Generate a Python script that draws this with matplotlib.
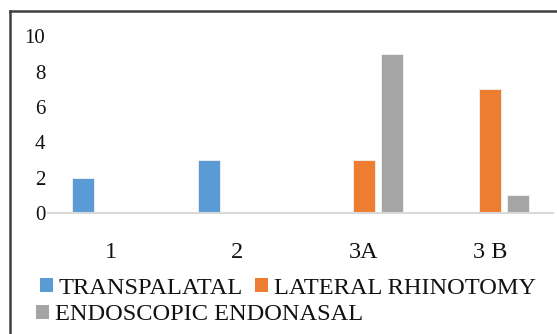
import matplotlib.pyplot as plt
import numpy as np
from matplotlib.patches import Patch
from matplotlib.lines import Line2D

plt.rcParams['font.family'] = ['Liberation Serif', 'DejaVu Serif']

categories = ['1', '2', '3A', '3 B']
transpalatal = [2, 3, 0, 0]
lateral_rhinotomy = [0, 0, 3, 7]
endoscopic_endonasal = [0, 0, 9, 1]

series_names = ['TRANSPALATAL', 'LATERAL RHINOTOMY', 'ENDOSCOPIC ENDONASAL']
colors = ['#5b9bd5', '#ed7d31', '#a5a5a5']

W, H = 557, 334
fig = plt.figure(figsize=(W / 100, H / 100), dpi=100)
ax = fig.add_axes([48 / W, 1 - 213 / H, 505 / W, 176.5 / H])

x = np.arange(len(categories))
bw = 0.175
step = 0.222
for i, (vals, c) in enumerate(zip([transpalatal, lateral_rhinotomy, endoscopic_endonasal], colors)):
    ax.bar(x + (i - 1) * step, vals, bw, color=c, edgecolor='#f2f2f2', linewidth=0.6, zorder=2)

ax.set_xlim(-0.5, 3.5)
ax.set_ylim(0, 10)
ax.set_yticks(range(0, 11, 2))
ax.set_xticks(x)
ax.set_xticklabels(categories)
ax.tick_params(axis='y', length=0, pad=2, labelsize=15, labelcolor='#111111')
ax.tick_params(axis='x', length=0, pad=21, labelsize=17.5, labelcolor='#111111')
for s in ['top', 'right', 'left']:
    ax.spines[s].set_visible(False)
ax.spines['bottom'].set_color('#d9d9d9')
ax.spines['bottom'].set_linewidth(1.5)

# outer frame (only top and left edges fall inside the image)
fig.add_artist(Line2D([10 / W, 10 / W], [0, 1 - 11 / H], color='#404040', lw=1.8,
                      transform=fig.transFigure))
fig.add_artist(Line2D([10 / W, 1], [1 - 11 / H, 1 - 11 / H], color='#404040', lw=1.8,
                      transform=fig.transFigure))

handles = [Patch(facecolor=c, edgecolor='none') for c in colors]
leg_kw = dict(frameon=False, fontsize=17.6, handlelength=0.52, handleheight=0.52,
              handletextpad=0.25, borderpad=0, borderaxespad=0, columnspacing=0.5,
              loc='center left', labelcolor='#111111')
leg1 = fig.legend(handles[:2], series_names[:2], ncol=2,
                  bbox_to_anchor=(40 / W, 1 - 288 / H), **leg_kw)
fig.legend(handles[2:], series_names[2:], bbox_to_anchor=(36 / W, 1 - 315 / H), **leg_kw)

fig.savefig('out.png', dpi=100)
